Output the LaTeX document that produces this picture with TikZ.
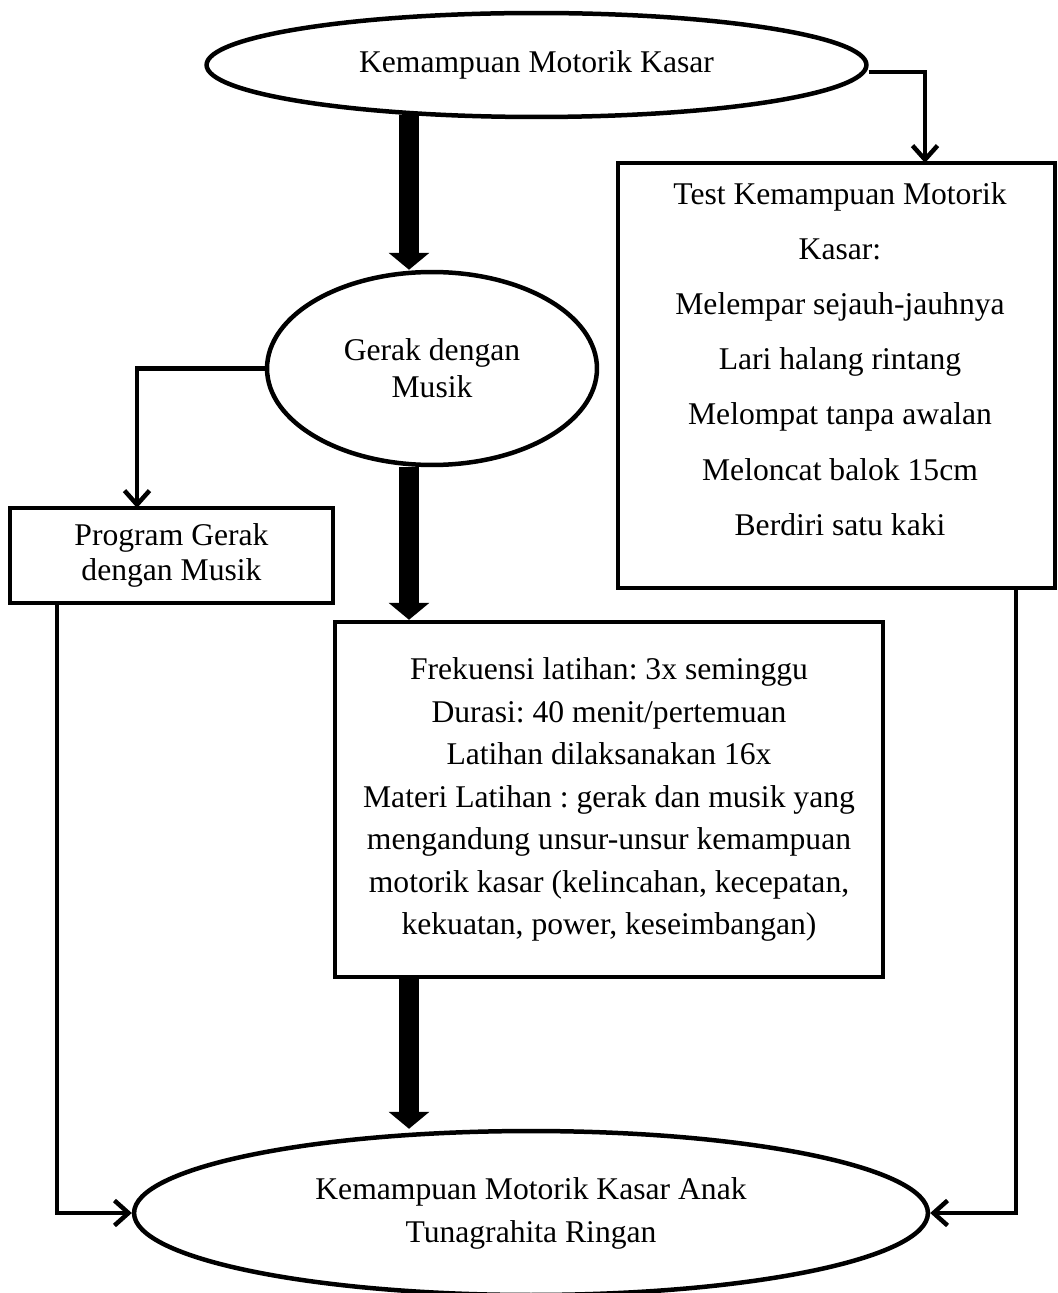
\documentclass[tikz,border=0pt]{standalone}
\usepackage{fontspec}
\setmainfont{Liberation Serif}
\frenchspacing
\usetikzlibrary{arrows.meta,shapes.geometric}
\begin{document}
\begin{tikzpicture}[x=0.02cm, y=-0.02cm,
  every node/.style={font=\fontsize{18}{21}\selectfont, align=center, inner sep=0pt},
  oval/.style={draw, ellipse, line width=0.09cm},
  kotak/.style={draw, rectangle, line width=0.09cm},
  panah/.style={line width=0.09cm, -{Straight Barb[length=0.28cm, width=0.5cm]}},
  panahtebal/.style={line width=0.4cm, -{Triangle[width=0.8cm, length=0.34cm]}}]
\useasboundingbox (0,0) rectangle (1057,1293);
\node[oval, minimum width=13.2cm, minimum height=2.08cm] (kmk) at (536.5,65) {Kemampuan Motorik Kasar};
\node[oval, minimum width=6.6cm, minimum height=3.86cm] (gerak) at (432,368.5) {Gerak dengan\\Musik};
\node[kotak, minimum width=8.74cm, minimum height=8.5cm] (test) at (836.5,375.5) {};
\node[font=\fontsize{18}{31.4}\selectfont] (testisi) at (840,359) {Test Kemampuan Motorik\\Kasar:\\Melempar sejauh-jauhnya\\Lari halang rintang\\Melompat tanpa awalan\\Meloncat balok 15cm\\Berdiri satu kaki};
\node[kotak, minimum width=6.46cm, minimum height=1.9cm, font=\fontsize{18}{20}\selectfont] (prog) at (171.5,555.5) {Program Gerak\\dengan Musik};
\node[kotak, minimum width=10.96cm, minimum height=7.1cm, font=\fontsize{18}{24.2}\selectfont] (frek) at (609,799.5) {Frekuensi latihan: 3x seminggu\\Durasi: 40 menit/pertemuan\\Latihan dilaksanakan 16x\\Materi Latihan : gerak dan musik yang\\mengandung unsur-unsur kemampuan\\motorik kasar (kelincahan, kecepatan,\\kekuatan, power, keseimbangan)};
\node[oval, minimum width=15.88cm, minimum height=3.28cm, font=\fontsize{18}{24.5}\selectfont] (kmkanak) at (531,1213) {Kemampuan Motorik Kasar Anak\\Tunagrahita Ringan};
\coordinate (sumbu) at (409,0);
\coordinate (masukprog) at (137,508);
\coordinate (masuktest) at (925,163);
\coordinate (relkiri) at (57,0);
\coordinate (relkanan) at (1016,0);
\draw[panahtebal] ([yshift=0.08cm]kmk.south -| sumbu) -- (gerak.north -| sumbu);
\draw[panahtebal] (gerak.south -| sumbu) -- (frek.north -| sumbu);
\draw[panahtebal] (frek.south -| sumbu) -- (kmkanak.north -| sumbu);
\draw[panah] ([yshift=-0.14cm]kmk.east) -| (masuktest);
\draw[panah] (gerak.west) -| (masukprog);
\draw[panah] (prog.south -| relkiri) |- (kmkanak.west);
\draw[panah] (test.south -| relkanan) |- (kmkanak.east);
\end{tikzpicture}
\end{document}
